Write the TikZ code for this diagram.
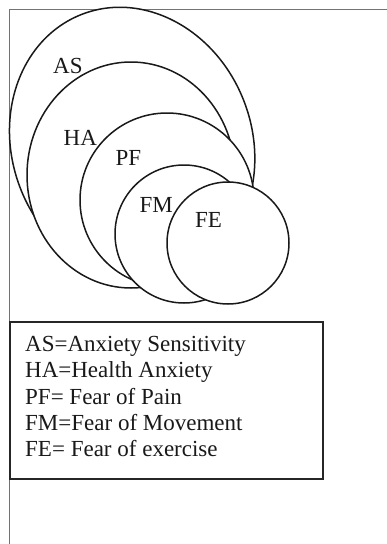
\documentclass[tikz,border=0pt]{standalone}
\usepackage{fontspec}
\setmainfont{Liberation Serif}
\begin{document}
\begin{tikzpicture}[x=1pt,y=-1pt,
  setshape/.style={draw=black!90, line width=1.5pt, fill=white},
  setlabel/.style={anchor=base west, inner sep=0pt, text=black!90, font=\fontsize{23}{27}\selectfont},
  legline/.style={anchor=base west, inner sep=0pt, text=black!90, font=\fontsize{23}{27}\selectfont},
  outerframe/.style={draw=black!55, line width=0.8pt},
  legbox/.style={draw=black!85, line width=1.4pt}]
\useasboundingbox (0,0) rectangle (387,544);
% outer frame (top and left edges)
\draw[outerframe] (9.5,544) -- (9.5,9) -- (387,9);
% nested sets, drawn from outer to inner
\draw[setshape, rotate around={20.8:(132.15,144.66)}] (132.15,144.66) ellipse [x radius=120, y radius=139.7];
\draw[setshape] (131,175) ellipse [x radius=104, y radius=113];
\draw[setshape] (167,200) circle [radius=87];
\draw[setshape] (184,234) circle [radius=69];
\draw[setshape] (228,243) circle [radius=61];
% labels
\node[setlabel] (as) at (53,73.5) {AS};
\node[setlabel] (ha) at (63.5,145.5) {HA};
\node[setlabel] (pf) at (115.5,165.5) {PF};
\node[setlabel] (fm) at (139.5,212.5) {FM};
\node[setlabel] (fe) at (195,227) {FE};
% legend
\draw[legbox] (10,322) rectangle (323,479);
\node[legline] (l1) at (25,351.5) {AS=Anxiety Sensitivity};
\node[legline] (l2) at (25,377.8) {HA=Health Anxiety};
\node[legline] (l3) at (25,404.1) {PF= Fear of Pain};
\node[legline] (l4) at (25,430.4) {FM=Fear of Movement};
\node[legline] (l5) at (25,456.7) {FE= Fear of exercise};
\end{tikzpicture}
\end{document}
